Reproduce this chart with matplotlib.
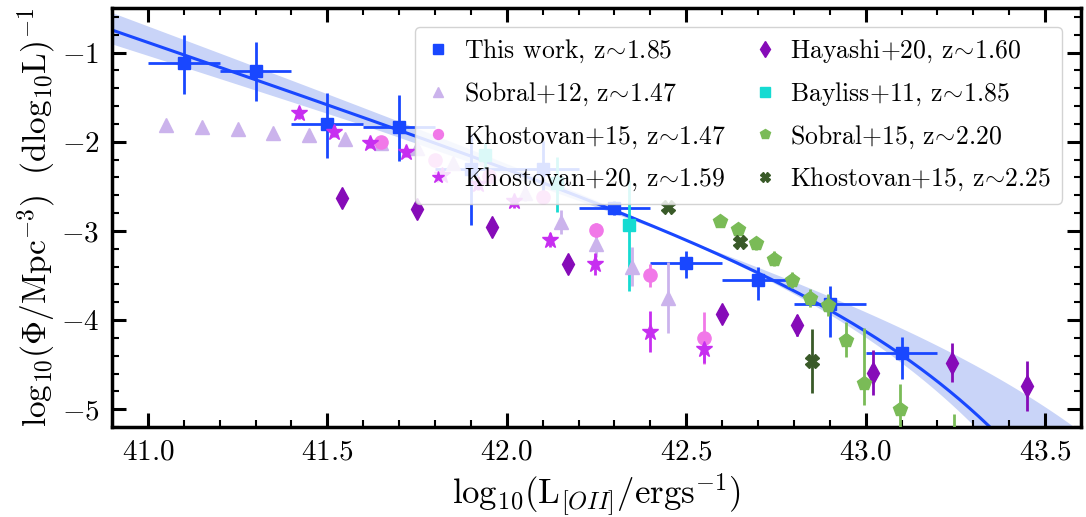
import numpy as np
import matplotlib
matplotlib.use("Agg")
import matplotlib.pyplot as plt
from matplotlib.ticker import MultipleLocator, FormatStrFormatter

plt.rcParams["font.family"] = "serif"
plt.rcParams["font.serif"] = ["cmr10"]
plt.rcParams["mathtext.fontset"] = "cm"
plt.rcParams["axes.formatter.use_mathtext"] = True

# This work: binned [OII] luminosity function
this_x = [41.1, 41.3, 41.5, 41.7, 41.9, 42.1, 42.3, 42.5, 42.7, 42.9, 43.1]
this_y = [-1.12, -1.21, -1.80, -1.84, -2.31, -2.31, -2.74, -3.36, -3.55, -3.82, -4.37]
this_yerr_up = [0.32, 0.33, 0.35, 0.36, 0.40, 0.32, 0.08, 0.13, 0.15, 0.20, 0.18]
this_yerr_lo = [0.34, 0.33, 0.38, 0.38, 0.62, 0.32, 0.08, 0.17, 0.22, 0.37, 0.29]
this_xerr = [0.1] * 11

# Schechter fit (log phi*, alpha, log L*) and samples spanning the uncertainty band
fit_params = (-3.934, -2.38, 42.95)
band_log_phi = [-3.934, -4.654, -3.988, -3.889, -3.820]
band_alpha = [-2.38, -2.38, -2.50, -2.28, -2.38]
band_log_lstar = [42.95, 43.40, 42.95, 42.95, 42.88]

# Literature comparisons
sob12_x = [41.05, 41.15, 41.25, 41.35, 41.45, 41.55, 41.65, 41.75, 41.85, 41.95,
           42.05, 42.15, 42.25, 42.35, 42.45]
sob12_y = [-1.81, -1.83, -1.86, -1.90, -1.93, -1.97, -2.01, -2.07, -2.24, -2.38,
           -2.58, -2.90, -3.15, -3.40, -3.75]
sob12_err = [0.03, 0.03, 0.03, 0.03, 0.03, 0.03, 0.04, 0.04, 0.05, 0.06,
             0.09, 0.13, 0.14, 0.22, 0.40]

kho15_x = [41.65, 41.80, 41.95, 42.10, 42.25, 42.40, 42.55]
kho15_y = [-2.00, -2.20, -2.39, -2.62, -2.99, -3.50, -4.20]
kho15_err = [0.03, 0.03, 0.04, 0.05, 0.08, 0.13, 0.29]

kho20_x = [41.42, 41.52, 41.62, 41.72, 41.82, 41.92, 42.02, 42.12, 42.245, 42.40, 42.55]
kho20_y = [-1.68, -1.89, -2.01, -2.11, -2.37, -2.47, -2.67, -3.10, -3.37, -4.13, -4.33]
kho20_err = [0.06, 0.06, 0.06, 0.06, 0.07, 0.07, 0.07, 0.08, 0.12, 0.23, 0.15]

hay20_x = [41.54, 41.75, 41.96, 42.17, 42.60, 42.81, 43.02, 43.24, 43.45]
hay20_y = [-2.63, -2.75, -2.96, -3.37, -3.93, -4.06, -4.59, -4.48, -4.74]
hay20_err = [0.05, 0.05, 0.06, 0.06, 0.10, 0.12, 0.25, 0.22, 0.28]

bay11_x = [41.94, 42.14, 42.34]
bay11_y = [-2.15, -2.46, -2.93]
bay11_err_up = [0.14, 0.29, 0.50]
bay11_err_lo = [0.14, 0.33, 0.75]

sob15_x = [42.595, 42.645, 42.695, 42.745, 42.795, 42.845, 42.895, 42.945, 42.995, 43.095, 43.245]
sob15_y = [-2.89, -2.98, -3.14, -3.31, -3.55, -3.75, -3.83, -4.22, -4.71, -5.00, -5.45]
sob15_err_up = [0.07, 0.07, 0.07, 0.08, 0.09, 0.10, 0.12, 0.20, 0.62, 0.28, 0.40]
sob15_err_lo = [0.07, 0.07, 0.07, 0.08, 0.09, 0.10, 0.12, 0.20, 0.24, 0.30, 0.40]

kho15b_x = [42.45, 42.65, 42.85]
kho15b_y = [-2.73, -3.12, -4.46]
kho15b_err = [0.04, 0.05, 0.36]


def log_schechter(logl, log_phi, alpha, log_lstar):
    r = 10 ** (logl - log_lstar)
    return np.log10(np.log(10) * 10 ** log_phi * r ** (alpha + 1) * np.exp(-r))


fig = plt.figure(figsize=(10.86, 5.17), dpi=100)
ax = fig.add_axes([0.1031, 0.1741, 0.8923, 0.8104])

blue = "#1947ff"
lgrid = np.linspace(40.9, 43.6, 400)
curves = np.array([log_schechter(lgrid, p, a, s)
                   for p, a, s in zip(band_log_phi, band_alpha, band_log_lstar)])
ax.fill_between(lgrid, curves.min(axis=0), curves.max(axis=0),
                color="#c9d4f8", lw=0, zorder=1)
ax.plot(lgrid, log_schechter(lgrid, *fit_params), color=blue, lw=2.2, zorder=2)

sim = r"$\!\sim\!$"
handles, labels = [], []
h = ax.errorbar(this_x, this_y, xerr=this_xerr, yerr=[this_yerr_lo, this_yerr_up],
                fmt="s", color=blue, ms=9, elinewidth=2, capsize=0, zorder=3)
handles.append(h[0])
labels.append("This work, z" + sim + "1.85")

series = [
    (sob12_x, sob12_y, sob12_err, "^", "#cbb3ec", 10, "Sobral+12, z" + sim + "1.47"),
    (kho15_x, kho15_y, kho15_err, "o", "#f178e8", 9.5, "Khostovan+15, z" + sim + "1.47"),
    (kho20_x, kho20_y, kho20_err, "*", "#c72ef0", 12, "Khostovan+20, z" + sim + "1.59"),
    (hay20_x, hay20_y, hay20_err, "d", "#860bb8", 11, "Hayashi+20, z" + sim + "1.60"),
    (bay11_x, bay11_y, [bay11_err_lo, bay11_err_up], "s", "#15dbd2", 9, "Bayliss+11, z" + sim + "1.85"),
    (sob15_x, sob15_y, [sob15_err_lo, sob15_err_up], "p", "#7abb57", 10, "Sobral+15, z" + sim + "2.20"),
    (kho15b_x, kho15b_y, kho15b_err, "X", "#395a28", 9.5, "Khostovan+15, z" + sim + "2.25"),
]
for xs, ys, err, mk, col, ms, lab in series:
    h = ax.errorbar(xs, ys, yerr=err, fmt=mk, color=col, ms=ms, elinewidth=2,
                    capsize=0, zorder=4)
    handles.append(h[0])
    labels.append(lab)

ax.set_xlim(40.9, 43.6)
ax.set_ylim(-5.2, -0.5)
ax.xaxis.set_major_locator(MultipleLocator(0.5))
ax.xaxis.set_minor_locator(MultipleLocator(0.1))
ax.yaxis.set_major_locator(MultipleLocator(1))
ax.yaxis.set_minor_locator(MultipleLocator(0.2))
ax.tick_params(which="both", direction="in", top=True, right=True, labelsize=21)
ax.tick_params(which="major", length=10, width=2.2, pad=9)
ax.tick_params(which="minor", length=5, width=1.5)
ax.xaxis.set_major_formatter(FormatStrFormatter(r"$%.1f$"))
ax.yaxis.set_major_formatter(FormatStrFormatter(r"$%d$"))
for sp in ax.spines.values():
    sp.set_linewidth(2.5)

ax.set_xlabel(r"$\mathrm{log}_{10}(\mathrm{L}_{[OII]}/\mathrm{ergs}^{-1})$",
              fontsize=25, labelpad=4)
ax.set_ylabel(r"$\mathrm{log}_{10}(\Phi/\mathrm{Mpc}^{-3})\ \ (\mathrm{dlog_{10}L})^{-1}$",
              fontsize=24, labelpad=2)

ax.legend(handles, labels, ncol=2, loc="upper right", fontsize=18.5, markerscale=0.75,
          handlelength=1.0, handletextpad=0.5, columnspacing=1.0, labelspacing=0.6,
          borderaxespad=0.75, framealpha=0.85, edgecolor="#cccccc", fancybox=True)

fig.savefig("out.png", dpi=100)
